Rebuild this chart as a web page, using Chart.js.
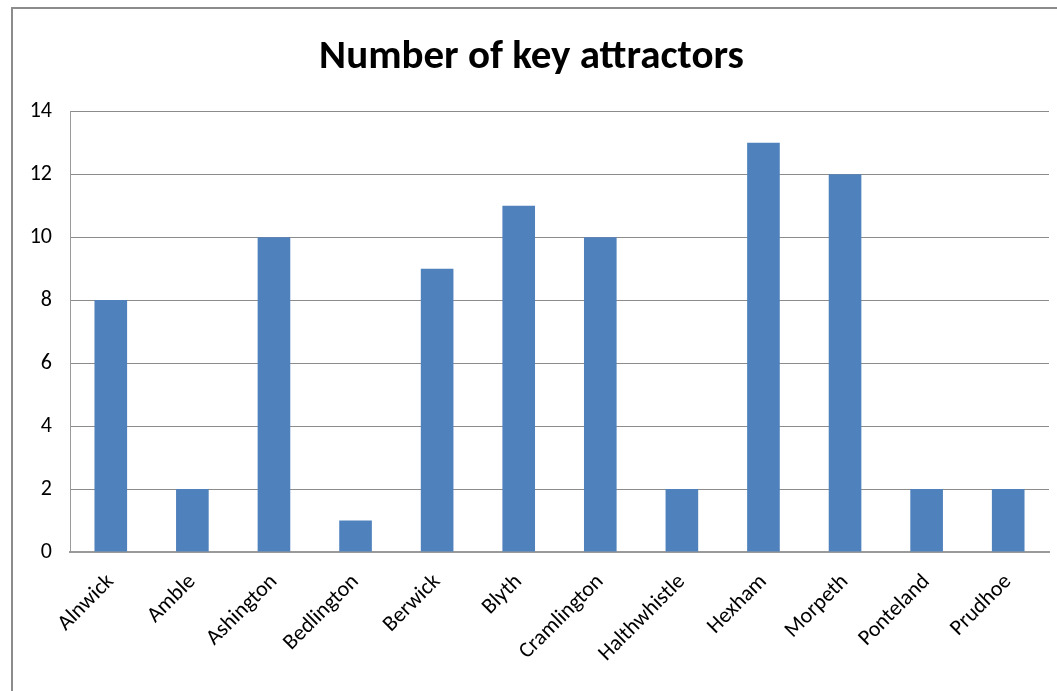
<!DOCTYPE html>
<html lang="en">
<head>
    <meta charset="UTF-8">
    <title>Number of key attractors</title>
    <script src="https://cdn.jsdelivr.net/npm/chart.js"></script>
    <style>
        html, body { margin: 0; padding: 0; background: #fff; overflow: hidden; }
        .chart-box {
            position: absolute;
            left: 11px;
            top: 7px;
            width: 1060px;
            height: 700px;
            border-left: 2px solid #8c8c8c;
            border-top: 2px solid #8c8c8c;
        }
        .chart-wrap {
            position: absolute;
            left: 1px;
            top: 1px;
            width: 1043px;
            height: 681px;
        }
    </style>
</head>
<body>
    <div class="chart-box">
        <div class="chart-wrap">
            <canvas id="attractorsChart"></canvas>
        </div>
    </div>

    <script>
        const towns = ['Alnwick', 'Amble', 'Ashington', 'Bedlington', 'Berwick', 'Blyth',
            'Cramlington', 'Halthwhistle', 'Hexham', 'Morpeth', 'Ponteland', 'Prudhoe'];
        const attractors = [8, 2, 10, 1, 9, 11, 10, 2, 13, 12, 2, 2];
        const yTicks = [0, 2, 4, 6, 8, 10, 12, 14];

        const fontFamily = 'Carlito, Calibri, Lato, sans-serif';

        const ctx = document.getElementById('attractorsChart').getContext('2d');
        new Chart(ctx, {
            type: 'bar',
            data: {
                labels: towns,
                datasets: [{
                    label: 'Number of key attractors',
                    data: attractors,
                    backgroundColor: '#4f81bd',
                    borderWidth: 0,
                    categoryPercentage: 1,
                    barPercentage: 0.4
                }]
            },
            options: {
                responsive: true,
                maintainAspectRatio: false,
                animation: false,
                layout: {
                    padding: { top: 23, right: 8, bottom: 0, left: 0 }
                },
                plugins: {
                    legend: { display: false },
                    tooltip: { enabled: false },
                    title: {
                        display: true,
                        text: 'Number of key attractors',
                        color: '#000',
                        font: { family: fontFamily, size: 41, weight: 'bold' },
                        padding: { top: 0, bottom: 29 }
                    }
                },
                scales: {
                    x: {
                        grid: { display: false, drawTicks: false },
                        border: { color: '#9a9a9a', width: 2 },
                        ticks: {
                            color: '#000',
                            font: { family: fontFamily, size: 22 },
                            minRotation: 45,
                            maxRotation: 45,
                            padding: 17
                        },
                        afterFit: scale => { scale.height = 139; }
                    },
                    y: {
                        min: 0,
                        max: 14,
                        afterBuildTicks: scale => {
                            scale.ticks = yTicks.map(v => ({ value: v }));
                        },
                        grid: { color: '#8c8c8c', drawTicks: false },
                        border: { color: '#9a9a9a', width: 1 },
                        ticks: {
                            color: '#000',
                            font: { family: fontFamily, size: 22 },
                            padding: 18
                        },
                        afterFit: scale => { scale.width = 56; }
                    }
                }
            }
        });
    </script>
</body>
</html>
